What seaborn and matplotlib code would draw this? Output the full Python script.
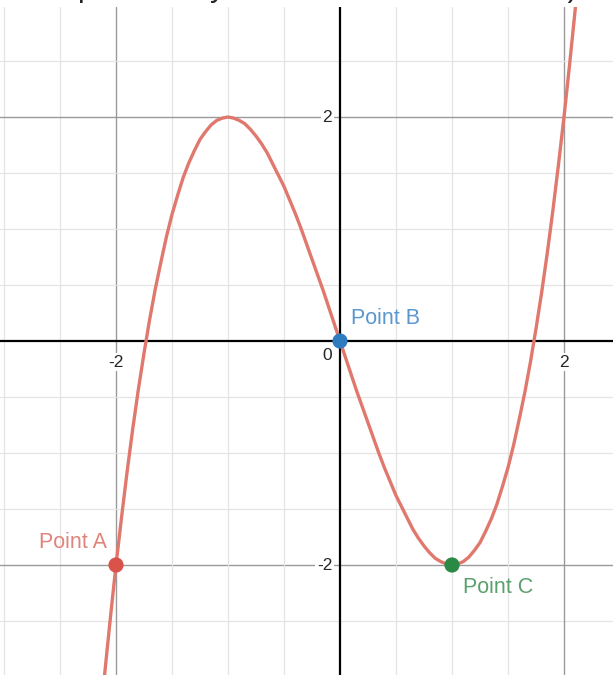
import matplotlib
matplotlib.use("Agg")
import matplotlib.pyplot as plt
import seaborn as sns
import numpy as np
import pandas as pd

# curve values
curve_x = [-2.15, -2.1, -2.05, -2.0, -1.95, -1.9, -1.85, -1.8, -1.75, -1.7, -1.65,
           -1.6, -1.55, -1.5, -1.45, -1.4, -1.35, -1.3, -1.25, -1.2, -1.15, -1.1,
           -1.05, -1.0, -0.95, -0.9, -0.85, -0.8, -0.75, -0.7, -0.65, -0.6, -0.55,
           -0.5, -0.45, -0.4, -0.35, -0.3, -0.25, -0.2, -0.15, -0.1, -0.05, 0.0,
           0.05, 0.1, 0.15, 0.2, 0.25, 0.3, 0.35, 0.4, 0.45, 0.5, 0.55, 0.6,
           0.65, 0.7, 0.75, 0.8, 0.85, 0.9, 0.95, 1.0, 1.05, 1.1, 1.15, 1.2,
           1.25, 1.3, 1.35, 1.4, 1.45, 1.5, 1.55, 1.6, 1.65, 1.7, 1.75, 1.8,
           1.85, 1.9, 1.95, 2.0, 2.05, 2.1, 2.15]
curve_y = [-3.49, -2.96, -2.47, -2.0, -1.57, -1.16, -0.78, -0.43, -0.11, 0.19, 0.46,
           0.70, 0.93, 1.13, 1.30, 1.46, 1.59, 1.70, 1.80, 1.87, 1.93, 1.97,
           1.99, 2.0, 1.99, 1.97, 1.94, 1.89, 1.83, 1.76, 1.68, 1.58, 1.48,
           1.38, 1.26, 1.14, 1.01, 0.87, 0.73, 0.59, 0.45, 0.30, 0.15, 0.0,
           -0.15, -0.30, -0.45, -0.59, -0.73, -0.87, -1.01, -1.14, -1.26, -1.38, -1.48, -1.58,
           -1.68, -1.76, -1.83, -1.89, -1.94, -1.97, -1.99, -2.0, -1.99, -1.97, -1.93, -1.87,
           -1.80, -1.70, -1.59, -1.46, -1.30, -1.13, -0.93, -0.70, -0.46, -0.19, 0.11, 0.43,
           0.78, 1.16, 1.57, 2.0, 2.47, 2.96, 3.49]

point_names = ["Point A", "Point B", "Point C"]
point_x = [-2, 0, 1]
point_y = [-2, 0, -2]
point_colors = ["#d9534a", "#2f7bbf", "#2a8a45"]
label_colors = ["#e0837a", "#5b97cf", "#5aa06c"]

tick_vals = [-2, 2]

sns.set_style("white")
plt.rcParams['font.family'] = ['Liberation Sans', 'DejaVu Sans']

fig = plt.figure(figsize=(6.13, 6.75), dpi=100)
ax = fig.add_axes([0, 0, 1, 1 - 7 / 675])

ppu = 112.0
ax.set_xlim(-340 / ppu, (613 - 340) / ppu)
ax.set_ylim(-(675 - 341) / ppu, (341 - 7) / ppu)

# grid: light every 0.5, darker at +-2
for g in np.arange(-3.0, 3.01, 0.5):
    major = abs(g) == 2.0
    col = "#9a9a9a" if major else "#e4e4e4"
    lw = 1.0 if major else 0.9
    if g != 0:
        ax.axvline(g, color=col, lw=lw, zorder=0)
        ax.axhline(g, color=col, lw=lw, zorder=0)
ax.axvline(0, color="black", lw=1.6, zorder=1)
ax.axhline(0, color="black", lw=1.6, zorder=1)

df = pd.DataFrame({"x": curve_x, "y": curve_y})
sns.lineplot(data=df, x="x", y="y", sort=False, estimator=None,
             color="#e0786e", lw=2.4, ax=ax, zorder=3)

pts = pd.DataFrame({"x": point_x, "y": point_y, "name": point_names})
sns.scatterplot(data=pts, x="x", y="y", hue="name", palette=point_colors,
                s=120, edgecolor="none", legend=False, ax=ax, zorder=4)

ax.text(-2.08, -1.8, point_names[0], color=label_colors[0], fontsize=15.5,
        ha="right", va="center", zorder=5)
ax.text(0.1, 0.2, point_names[1], color=label_colors[1], fontsize=15.5,
        ha="left", va="center", zorder=5)
ax.text(1.1, -2.2, point_names[2], color=label_colors[2], fontsize=15.5,
        ha="left", va="center", zorder=5)

# tick labels
bbox = dict(facecolor="white", edgecolor="none", pad=1.0)
for v in tick_vals:
    ax.text(v, -0.19, str(v), fontsize=12.5, ha="center", va="center", bbox=bbox, zorder=2)
    ax.text(-0.07, v, str(v), fontsize=12.5, ha="right", va="center", bbox=bbox, zorder=2)
ax.text(-0.07, -0.13, "0", fontsize=12.5, ha="right", va="center", zorder=2)

ax.set_xlabel("")
ax.set_ylabel("")
ax.set_xticks([])
ax.set_yticks([])
for s in ax.spines.values():
    s.set_visible(False)

# heading of the page, mostly cut off at the top edge
fig.text(0.0, 1 + 4 / 675, "the equation of y = x\u00b3 \u2212 3x is shown below)",
         fontsize=22, ha="left", va="baseline")

fig.savefig("out.png", dpi=100)
